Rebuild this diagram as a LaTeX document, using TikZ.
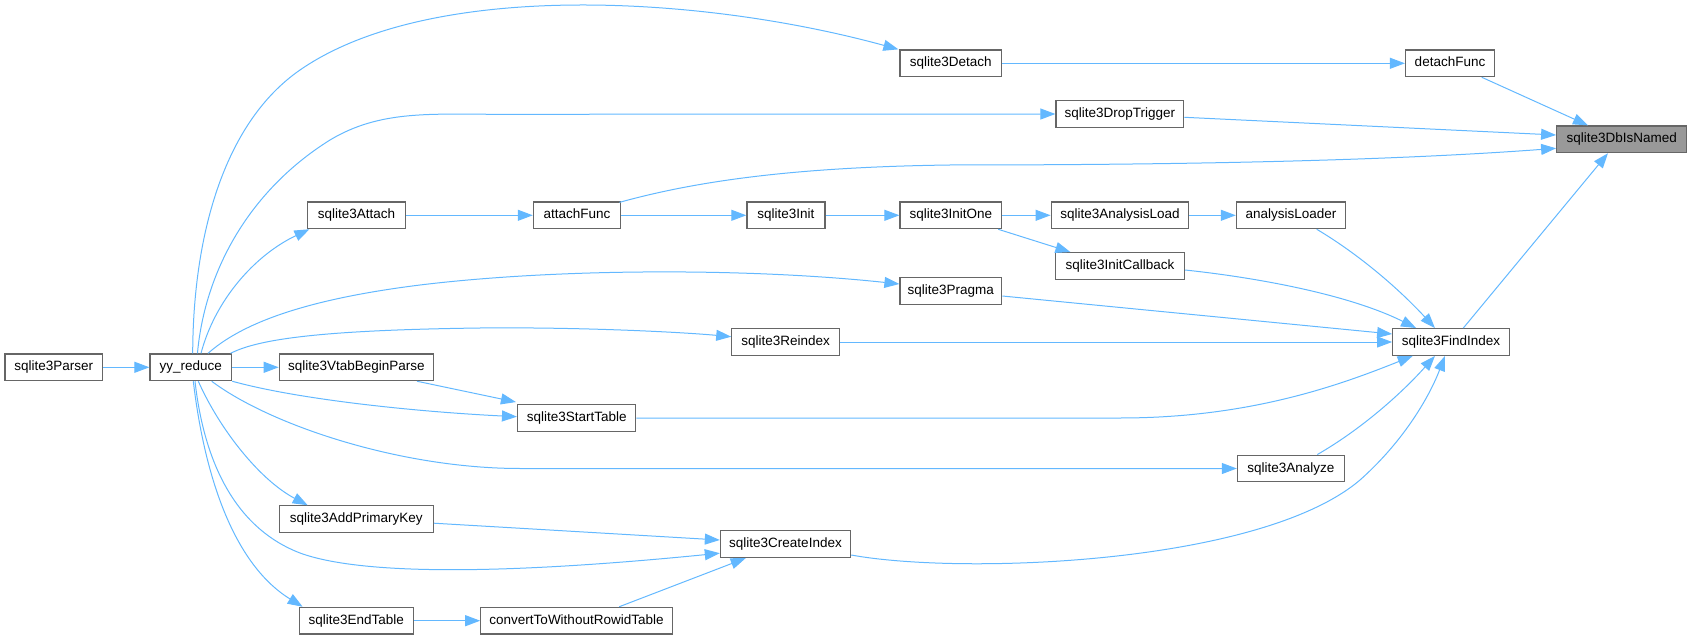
\documentclass[tikz,border=0pt]{standalone}
\usepackage{fontspec}
\setmainfont{Liberation Sans}
\usetikzlibrary{arrows.meta,calc}
\definecolor{edgeblue}{HTML}{63B8FF}
\definecolor{boxgray}{HTML}{666666}
\definecolor{hifill}{HTML}{999999}
\begin{document}
\begin{tikzpicture}[x=1pt,y=-1pt,
  fn/.style={draw=boxgray, line width=1.2pt, fill=white, minimum height=26.7pt,
    inner sep=0pt, font=\fontsize{13.5}{15}\selectfont, text=black,
    text height=9.8pt, text depth=2.7pt},
  call/.style={draw=edgeblue, line width=1pt, -{Triangle[length=15pt,width=11pt]}}]
\useasboundingbox (0,0) rectangle (1692,639);

% nodes
\node[fn, minimum width=97.3pt]  (parser)   at (53.65,367.3)  {sqlite3Parser};
\node[fn, minimum width=81.7pt]  (yy)       at (190.85,367.3) {yy\_reduce};
\node[fn, minimum width=154pt]   (vtab)     at (356.3,367.3)  {sqlite3VtabBeginParse};
\node[fn, minimum width=98pt]    (attach)   at (356.6,215.3)  {sqlite3Attach};
\node[fn, minimum width=154pt]   (addpk)    at (356.3,519.2)  {sqlite3AddPrimaryKey};
\node[fn, minimum width=113.7pt] (endtab)   at (356.3,620.7)  {sqlite3EndTable};
\node[fn, minimum width=87pt]    (attfn)    at (576.9,215.3)  {attachFunc};
\node[fn, minimum width=118.3pt] (starttab) at (576.7,418)    {sqlite3StartTable};
\node[fn, minimum width=191.4pt] (convert)  at (576.5,620.7)  {convertToWithoutRowidTable};
\node[fn, minimum width=78pt]    (init)     at (785.9,215.3)  {sqlite3Init};
\node[fn, minimum width=107.8pt] (reindex)  at (785.7,342)    {sqlite3Reindex};
\node[fn, minimum width=130.2pt] (crindex)  at (785.5,544.2)  {sqlite3CreateIndex};
\node[fn, minimum width=101.7pt] (detach)   at (950.85,63.3)  {sqlite3Detach};
\node[fn, minimum width=101.7pt] (initone)  at (950.85,215.3) {sqlite3InitOne};
\node[fn, minimum width=101.7pt] (pragma)   at (950.85,291)   {sqlite3Pragma};
\node[fn, minimum width=127.7pt] (droptrig) at (1119.85,114)  {sqlite3DropTrigger};
\node[fn, minimum width=137.5pt] (anload)   at (1119.95,215.3){sqlite3AnalysisLoad};
\node[fn, minimum width=129.1pt] (initcb)   at (1119.95,266)  {sqlite3InitCallback};
\node[fn, minimum width=109pt]   (anloader) at (1290.9,215.3) {analysisLoader};
\node[fn, minimum width=106.8pt] (analyze)  at (1290.8,468.5) {sqlite3Analyze};
\node[fn, minimum width=89pt]    (detfn)    at (1450,63.3)    {detachFunc};
\node[fn, minimum width=116.5pt] (findidx)  at (1450.95,342)  {sqlite3FindIndex};
\node[fn, minimum width=130pt, fill=hifill] (dbnamed) at (1621.7,139.3) {sqlite3DbIsNamed};

% straight calls
\draw[call] (parser.east) -- (yy.west);
\draw[call] (yy.east) -- (vtab.west);
\draw[call] (attach.east) -- (attfn.west);
\draw[call] (attfn.east) -- (init.west);
\draw[call] (init.east) -- (initone.west);
\draw[call] (initone.east) -- (anload.west);
\draw[call] (anload.east) -- (anloader.west);
\draw[call] (detach.east) -- (detfn.west);
\draw[call] (reindex.east) -- (findidx.west);
\draw[call] (endtab.east) -- (convert.west);
\draw[call] ($(initone.south east)+(-4.2,0)$) -- ($(initcb.north west)+(15.6,0)$);
\draw[call] ($(droptrig.east)+(0,3.3)$) -- ($(dbnamed.west)+(0,-4.3)$);
\draw[call] ($(detfn.south)+(31.7,0)$) -- ($(dbnamed.north)+(-33.7,0)$);
\draw[call] ($(findidx.north)+(12.35,0)$) -- ($(dbnamed.south)+(-13.7,0)$);
\draw[call] ($(pragma.east)+(0,5)$) -- ($(findidx.west)+(0,-8)$);
\draw[call] ($(vtab.south)+(60.7,0)$) -- ($(starttab.north west)+(-1,-2)$);
\draw[call] ($(addpk.east)+(0,4)$) -- ($(crindex.west)+(0,-4.2)$);
\draw[call] ($(convert.north)+(42.7,0)$) -- ($(crindex.south)+(-39.8,0)$);

% curved calls from yy_reduce
\draw[call] ($(yy.north)+(1.85,0)$) .. controls (193,240) and (222,124) .. (300,70)
  .. controls (430,-20) and (700,-5) .. ($(detach.north west)+(-1,0)$);
\draw[call] ($(yy.north)+(6.6,0)$) .. controls (205,270) and (250,190) .. (330,140)
  .. controls (380,110) and (430,114.3) .. (500,114.3) -- (droptrig.west);
\draw[call] ($(yy.north)+(10.15,0)$) .. controls (215,300) and (255,255) .. ($(attach.south west)+(2.4,0)$);
\draw[call] ($(yy.north)+(17.15,0)$) .. controls (240,325) and (300,300) .. (420,285)
  .. controls (560,268) and (750,268) .. ($(pragma.west)+(0,-7)$);
\draw[call] ($(yy.north east)+(-1.7,0)$) .. controls (260,338) and (330,330) .. (480,328)
  .. controls (580,327) and (680,332) .. ($(reindex.west)+(0,-5.3)$);
\draw[call] (yy.south east) .. controls (300,400) and (420,412) .. ($(starttab.west)+(0,-1.3)$);
\draw[call] ($(yy.south)+(20.85,0)$) .. controls (270,425) and (400,468.5) .. (520,468.5) -- (analyze.west);
\draw[call] ($(yy.south)+(7.45,0)$) .. controls (220,430) and (260,480) .. ($(addpk.north west)+(29,0)$);
\draw[call] ($(yy.south)+(4.15,0)$) .. controls (205,470) and (240,530) .. (300,553)
  .. controls (360,575) and (500,575) .. ($(crindex.west)+(0,9)$);
\draw[call] ($(yy.south)+(2.45,0)$) .. controls (205,480) and (235,565) .. ($(endtab.north west)+(3.8,0)$);

% curved calls into sqlite3DbIsNamed / sqlite3FindIndex
\draw[call] ($(attfn.north east)+(-1.5,1)$) .. controls (700,180) and (800,167) .. (950,165)
  .. controls (1200,165) and (1400,160) .. ($(dbnamed.west)+(0,9)$);
\draw[call] ($(anloader.south)+(25.8,0)$) .. controls (1360,255) and (1400,290) .. ($(findidx.north)+(-16,0)$);
\draw[call] ($(initcb.east)+(0,4)$) .. controls (1260,278) and (1350,295) .. ($(findidx.north west)+(24,0)$);
\draw[call] (starttab.east) -- (1120,418) .. controls (1250,418) and (1340,385) .. ($(findidx.south west)+(20.6,0)$);
\draw[call] ($(analyze.north)+(26.5,0)$) .. controls (1360,430) and (1400,395) .. ($(findidx.south)+(-16,0)$);
\draw[call] ($(crindex.east)+(0,10.8)$) .. controls (960,575) and (1260,565) .. (1360,480)
  .. controls (1405,440) and (1430,395) .. ($(findidx.south)+(-6,0)$);
\end{tikzpicture}
\end{document}
